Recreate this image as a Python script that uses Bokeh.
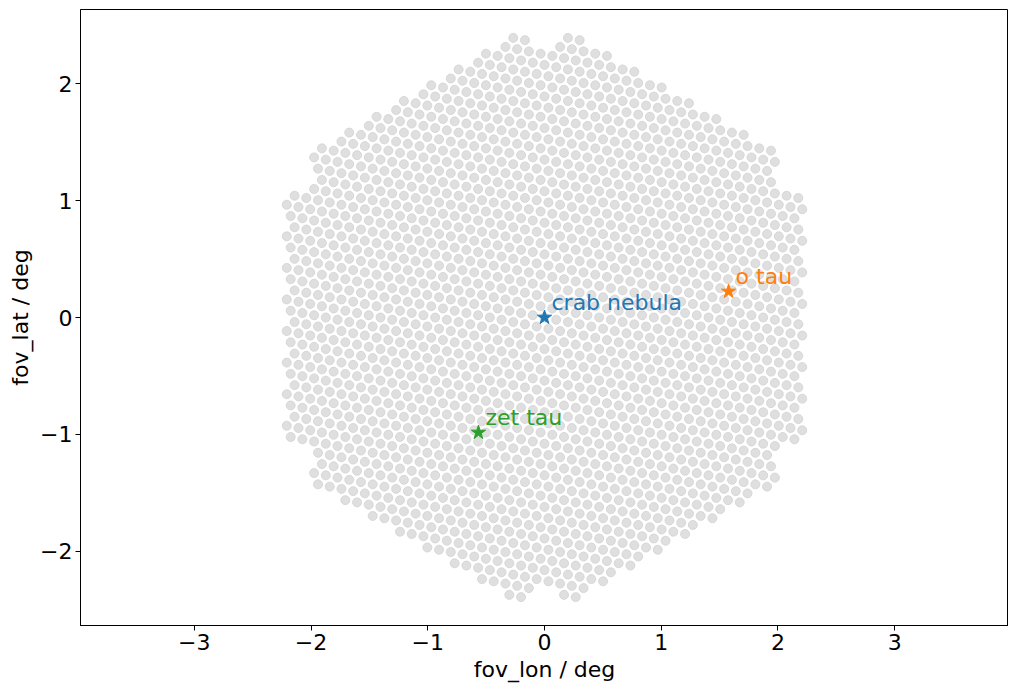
import numpy as np
from bokeh.plotting import figure
from bokeh.models import ColumnDataSource, FixedTicker
from bokeh.core.properties import value
from bokeh.embed import file_html
from bokeh.resources import INLINE

# Camera layout (LST-like): 7-pixel modules on a hexagon of module rings, corner modules missing
pix_spacing = 0.1022      # deg, distance between neighbouring pixel centres
module_rings = 9          # rings of modules around the central module
corner_modules_removed = True

# Sources in the field of view
source_names = ["crab nebula", "o tau", "zet tau"]
source_lon = [0.0, 1.577, -0.566]
source_lat = [0.0, 0.223, -0.985]
source_colors = ["#1f77b4", "#ff7f0e", "#2ca02c"]

x_ticks = [-3, -2, -1, 0, 1, 2, 3]
y_ticks = [-2, -1, 0, 1, 2]

# build pixel positions from the module layout
alpha = np.pi / 2 - np.arctan2(2.5, np.sqrt(3) / 2)   # pixel grid tilt vs. module grid
pix_angles = alpha + np.pi / 2 + np.arange(6) * np.pi / 3
offsets = np.vstack([[0.0, 0.0], np.column_stack([np.cos(pix_angles), np.sin(pix_angles)]) * pix_spacing])
mod_len = np.sqrt(7) * pix_spacing
ma = mod_len * np.array([np.cos(np.pi / 6), np.sin(np.pi / 6)])
mb = mod_len * np.array([0.0, 1.0])
n = module_rings
corners = {(n, 0), (-n, 0), (0, n), (0, -n), (-n, n), (n, -n)}
modules = []
for q in range(-n, n + 1):
    for r in range(-n, n + 1):
        if max(abs(q), abs(r), abs(q + r)) > n:
            continue
        if corner_modules_removed and (q, r) in corners:
            continue
        modules.append(q * ma + r * mb)
modules = np.array(modules)
pix = (modules[:, None, :] + offsets[None, :, :]).reshape(-1, 2)

pix_source = ColumnDataSource(data=dict(lon=pix[:, 0], lat=pix[:, 1]))
src = ColumnDataSource(data=dict(lon=source_lon, lat=source_lat, name=source_names, color=source_colors))

p = figure(frame_width=928, frame_height=616, x_range=(-3.975, 3.975), y_range=(-2.638, 2.638),
           output_backend="svg", toolbar_location=None,
           min_border_left=80, min_border_right=0, min_border_top=9, min_border_bottom=58)

p.scatter("lon", "lat", source=pix_source, size=9, fill_color="#dfdfdf", line_color="#d2d2d2", line_width=0.8)
p.scatter("lon", "lat", source=src, marker="star", size=15, fill_color="color", line_color="color")
p.text("lon", "lat", text="name", source=src, text_color="color", x_offset=7, y_offset=-15,
       text_font=value("DejaVu Sans"), text_font_size="22px", text_baseline="alphabetic")

# axes in matplotlib style
p.grid.grid_line_color = None
p.outline_line_color = "black"
p.outline_line_width = 1
p.outline_line_alpha = 1
for ax in (p.xaxis[0], p.yaxis[0]):
    ax.major_label_text_font = "DejaVu Sans"
    ax.major_label_text_font_size = "22px"
    ax.major_label_text_color = "black"
    ax.axis_label_text_font = "DejaVu Sans"
    ax.axis_label_text_font_size = "22px"
    ax.axis_label_text_font_style = "normal"
    ax.axis_label_text_color = "black"
    ax.minor_tick_line_color = None
    ax.major_tick_in = 0
    ax.major_tick_out = 5
    ax.axis_line_color = "black"
    ax.major_tick_line_color = "black"
    ax.major_label_standoff = 3
    ax.axis_label_standoff = 4

p.xaxis.ticker = FixedTicker(ticks=x_ticks)
p.yaxis.ticker = FixedTicker(ticks=y_ticks)
p.xaxis.major_label_overrides = {t: str(t).replace("-", "\u2212") for t in x_ticks}
p.yaxis.major_label_overrides = {t: str(t).replace("-", "\u2212") for t in y_ticks}
p.xaxis.axis_label = "fov_lon / deg"
p.yaxis.axis_label = "fov_lat / deg"

open("out.html", "w").write(file_html(p, INLINE))
